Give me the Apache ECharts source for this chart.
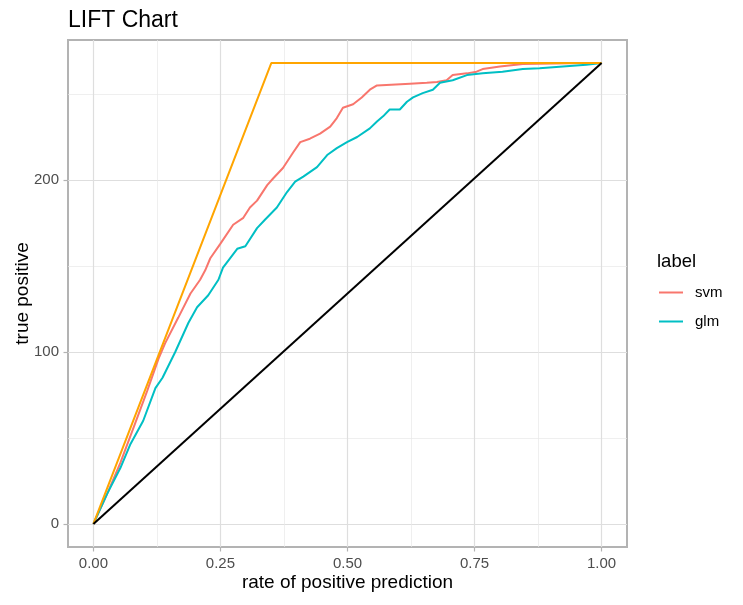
<!DOCTYPE html>
<html><head><meta charset="utf-8">
<script src="https://cdn.jsdelivr.net/npm/echarts@6/dist/echarts.min.js"></script>
<style>html,body{margin:0;padding:0;background:#fff}#c{width:743px;height:605px}</style>
</head><body><div id="c"></div>
<script>
const svmPts = [[0,0],[0.027,17.5],[0.053,35.5],[0.079,56],[0.106,77.5],[0.128,96],[0.141,105],[0.167,120],[0.191,134],[0.210,142],[0.220,147.5],[0.230,154.5],[0.250,163],[0.275,174],[0.295,178],[0.308,184],[0.322,188],[0.342,197],[0.354,201],[0.373,207],[0.393,216],[0.407,222],[0.426,224],[0.446,227],[0.466,231],[0.479,236],[0.491,242],[0.511,244],[0.528,248],[0.544,252.5],[0.558,255],[0.623,256],[0.656,256.5],[0.676,257],[0.695,258],[0.707,261],[0.735,262],[0.754,263],[0.766,264.5],[0.800,266],[0.845,267.5],[0.970,268],[1,268]];
const glmPts = [[0,0],[0.027,17.5],[0.053,32.5],[0.073,46.5],[0.098,60],[0.122,79],[0.136,85],[0.161,100],[0.187,117],[0.204,126],[0.226,133],[0.246,142],[0.255,149],[0.283,160],[0.299,161.5],[0.322,172],[0.338,177],[0.361,184],[0.381,193],[0.397,199],[0.413,202],[0.440,207.5],[0.460,214.5],[0.479,218.5],[0.499,222],[0.519,225],[0.544,230],[0.558,234],[0.570,237],[0.583,241],[0.603,241],[0.617,245.5],[0.629,248],[0.648,250.5],[0.668,252.5],[0.682,256.5],[0.707,258],[0.735,261],[0.766,262],[0.805,263],[0.845,264.5],[0.878,265],[0.970,267],[1,268]];
const bestPts = [[0,0],[0.35,268],[1,268]];
const randomPts = [[0,0],[1,268]];
const xMajor = [0,0.25,0.5,0.75,1];
const xMinor = [0.125,0.375,0.625,0.875];
const yMajor = [0,100,200];
const yMinor = [50,150,250];

const xMin = -0.05, xMax = 1.05, yMin = -13.4, yMax = 281.4;
const chart = echarts.init(document.getElementById('c'));
const font = 'Liberation Sans, Arial, sans-serif';
function mkLine(name, data, color){
  return {name, type:'line', data, showSymbol:false, symbol:'none', animation:false,
    lineStyle:{color, width:2}, itemStyle:{color}, xAxisIndex:0, yAxisIndex:0, z:3};
}
chart.setOption({
  animation:false,
  title:[
    {text:'LIFT Chart', left:63, top:4, textStyle:{fontFamily:font, fontSize:23, fontWeight:'normal', color:'#000'}},
    {text:'label', left:652, top:247, textStyle:{fontFamily:font, fontSize:18.5, fontWeight:'normal', color:'#000'}}
  ],
  legend:{data:['svm','glm'], orient:'vertical', left:659, top:285, padding:0, itemWidth:24, itemHeight:2, icon:'rect', itemGap:14,
    textStyle:{fontFamily:font, fontSize:15, color:'#000', padding:[0,0,0,7]}},
  grid:{left:68, right:116, top:40, bottom:58, containLabel:false, outerBoundsMode:'none', show:true, borderColor:'#b3b3b3', borderWidth:2, backgroundColor:'transparent'},
  xAxis:[
    {type:'value', min:xMin, max:xMax, name:'rate of positive prediction', nameLocation:'middle', nameGap:26, nameMoveOverlap:false,
     nameTextStyle:{fontFamily:font, fontSize:19, color:'#000'},
     axisLine:{show:false, onZero:false},
     axisTick:{show:true, customValues:xMajor, length:4.5, lineStyle:{color:'#b3b3b3', width:1.2}},
     axisLabel:{customValues:xMajor, formatter:v=>v.toFixed(2), fontFamily:font, fontSize:15, color:'#4d4d4d', margin:9},
     splitLine:{show:true, lineStyle:{color:'#dedede', width:1.2}}},
    {type:'value', min:xMin, max:xMax, position:'bottom', axisLine:{show:false, onZero:false},
     axisTick:{show:false, customValues:xMinor}, axisLabel:{show:false, customValues:xMinor},
     splitLine:{show:true, lineStyle:{color:'#e8e8e8', width:0.7}}}
  ],
  yAxis:[
    {type:'value', min:yMin, max:yMax, name:'true positive', nameLocation:'middle', nameGap:36, nameRotate:90, nameMoveOverlap:false,
     nameTextStyle:{fontFamily:font, fontSize:19, color:'#000'},
     axisLine:{show:false, onZero:false},
     axisTick:{show:true, customValues:yMajor, length:4.5, lineStyle:{color:'#b3b3b3', width:1.2}},
     axisLabel:{customValues:yMajor, fontFamily:font, fontSize:15, color:'#4d4d4d', margin:9},
     splitLine:{show:true, lineStyle:{color:'#dedede', width:1.2}}},
    {type:'value', min:yMin, max:yMax, position:'left', axisLine:{show:false, onZero:false},
     axisTick:{show:false, customValues:yMinor}, axisLabel:{show:false, customValues:yMinor},
     splitLine:{show:true, lineStyle:{color:'#e8e8e8', width:0.7}}}
  ],
  series:[
    mkLine('svm', svmPts, '#F8766D'),
    mkLine('glm', glmPts, '#00BFC4'),
    mkLine('best', bestPts, '#FFA500'),
    mkLine('random', randomPts, '#000000')
  ]
});
</script></body></html>
